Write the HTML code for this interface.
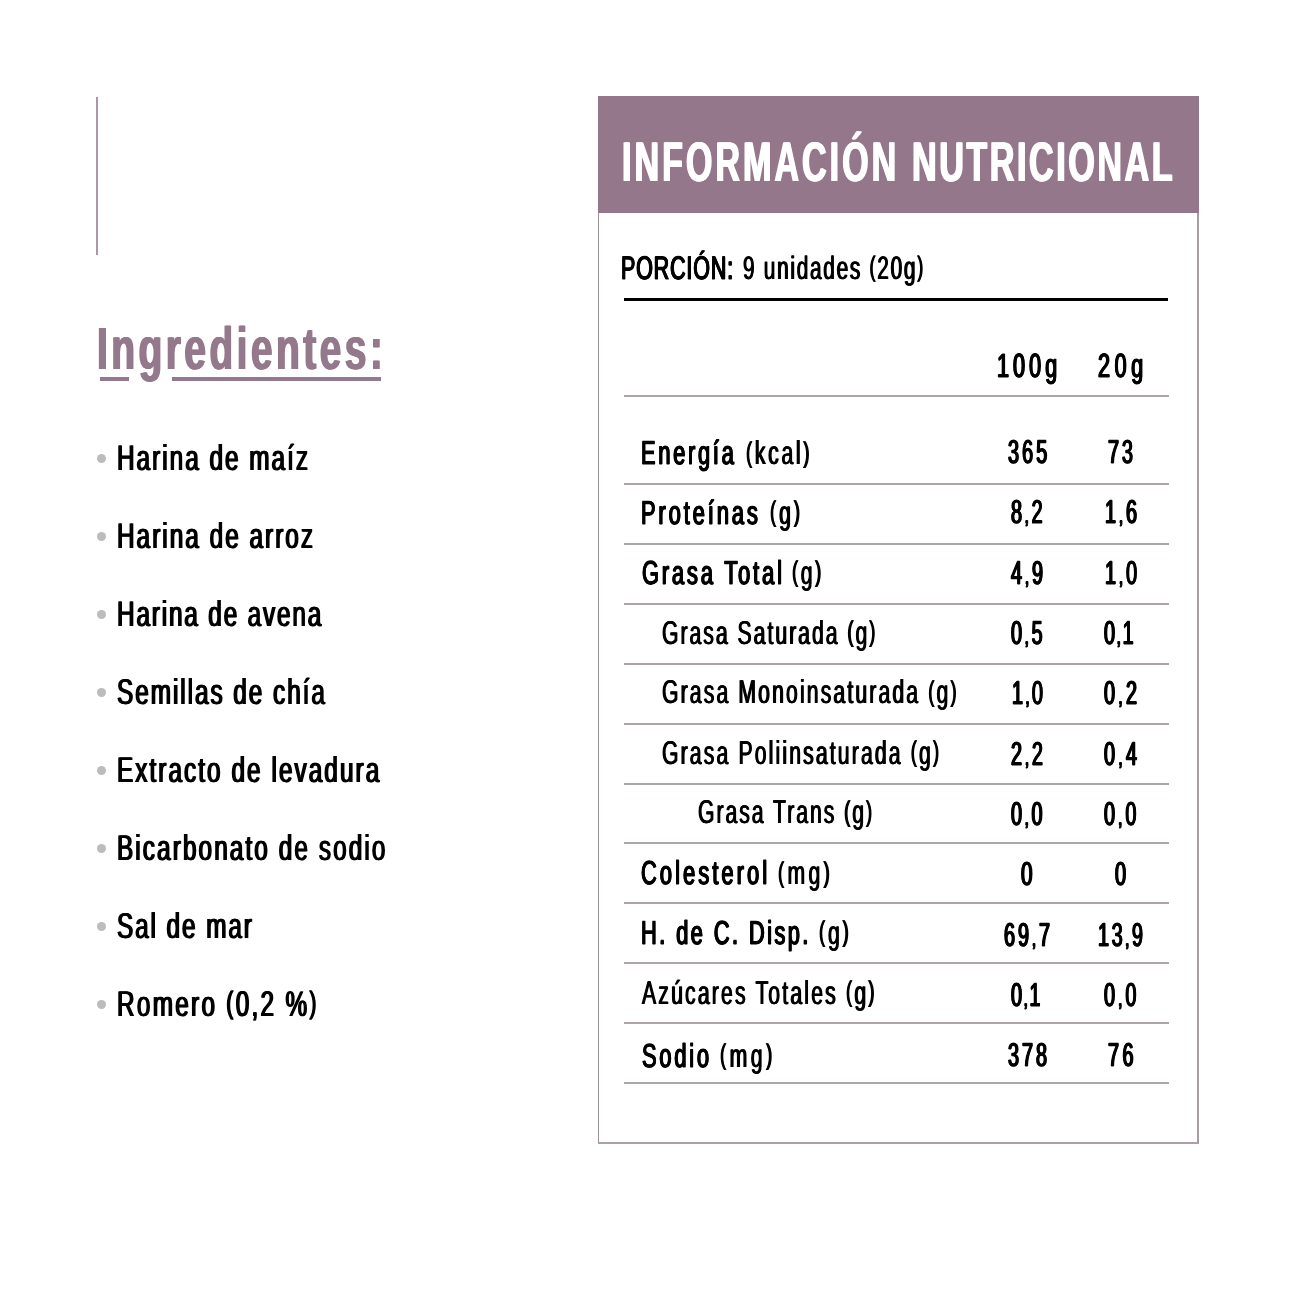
<!DOCTYPE html>
<html lang="es"><head><meta charset="utf-8"><title>Información nutricional</title>
<style>
html,body{margin:0;padding:0;background:#fff;}
body{width:1296px;height:1296px;position:relative;overflow:hidden;font-family:"Liberation Sans",sans-serif;color:#000;}
.t{position:absolute;margin:0;padding:0;white-space:pre;line-height:1em;transform-origin:0 0;font-weight:400;display:block;text-rendering:geometricPrecision;}
.title,.h2{font-weight:700;}
.c{font-size:.72em;}
.p{font-size:.87em;position:relative;top:-.09em;}
.title{color:#fff;}
.h2{color:#94788c;}
h1,h2,p,ul,li{margin:0;padding:0;list-style:none;font-weight:400;font-size:0;}
.vline{position:absolute;left:96px;top:97px;width:2px;height:158px;background:#ad97a7;}
.ul{position:absolute;top:377px;height:4px;background:#94788c;}
.dot{position:absolute;left:97px;width:9px;height:9px;border-radius:50%;background:#bcbcbe;}
.panel{position:absolute;left:598px;top:96px;width:598px;height:1046px;border-style:solid;border-color:#a99ca4;border-width:0 2px 2px 1px;border-left-color:#9d9098;border-bottom-color:#af9fab;box-sizing:content-box;}
.head{position:absolute;left:598px;top:96px;width:601px;height:117px;background:#94778b;}
.rule{position:absolute;left:624px;width:544px;height:3.5px;top:297.6px;background:#000;}
.ln{position:absolute;left:624px;width:545px;height:2px;background:#afa4aa;}
</style></head><body>
<div class="vline"></div>
<h2><span class="t h2" style="left:97.36px;top:318.57px;font-size:59.56px;transform:scaleX(0.6550);letter-spacing:5.21px;text-shadow:1.07px 0 0 currentColor,-1.07px 0 0 currentColor;">Ingredientes:</span></h2>
<div class="ul" style="left:100px;width:29px"></div><div class="ul" style="left:171.75px;width:209px"></div>
<ul>
<li><i class="dot" style="top:454.10px"></i><span class="t ing" style="left:116.83px;top:441.09px;font-size:35.79px;transform:scaleX(0.6800);letter-spacing:2.95px;text-shadow:1.07px 0 0 currentColor,-1.07px 0 0 currentColor;">Harina de maíz</span></li>
<li><i class="dot" style="top:532.04px"></i><span class="t ing" style="left:116.83px;top:519.03px;font-size:35.79px;transform:scaleX(0.6800);letter-spacing:2.98px;text-shadow:1.07px 0 0 currentColor,-1.07px 0 0 currentColor;">Harina de arroz</span></li>
<li><i class="dot" style="top:609.98px"></i><span class="t ing" style="left:116.83px;top:596.97px;font-size:35.79px;transform:scaleX(0.6800);letter-spacing:2.70px;text-shadow:1.07px 0 0 currentColor,-1.07px 0 0 currentColor;">Harina de avena</span></li>
<li><i class="dot" style="top:687.92px"></i><span class="t ing" style="left:117.47px;top:674.91px;font-size:35.79px;transform:scaleX(0.6800);letter-spacing:2.88px;text-shadow:1.07px 0 0 currentColor,-1.07px 0 0 currentColor;">Semillas de chía</span></li>
<li><i class="dot" style="top:765.86px"></i><span class="t ing" style="left:116.83px;top:752.85px;font-size:35.79px;transform:scaleX(0.6800);letter-spacing:3.02px;text-shadow:1.07px 0 0 currentColor,-1.07px 0 0 currentColor;">Extracto de levadura</span></li>
<li><i class="dot" style="top:843.80px"></i><span class="t ing" style="left:116.83px;top:830.79px;font-size:35.79px;transform:scaleX(0.6800);letter-spacing:3.08px;text-shadow:1.07px 0 0 currentColor,-1.07px 0 0 currentColor;">Bicarbonato de sodio</span></li>
<li><i class="dot" style="top:921.74px"></i><span class="t ing" style="left:117.47px;top:908.73px;font-size:35.79px;transform:scaleX(0.6800);letter-spacing:2.82px;text-shadow:1.07px 0 0 currentColor,-1.07px 0 0 currentColor;">Sal de mar</span></li>
<li><i class="dot" style="top:999.68px"></i><span class="t ing" style="left:116.83px;top:986.67px;font-size:35.79px;transform:scaleX(0.6800);letter-spacing:3.37px;text-shadow:1.07px 0 0 currentColor,-1.07px 0 0 currentColor;">Romero <span class="p">(</span>0,2 %<span class="p">)</span></span></li>
</ul>
<section>
<div class="panel"></div><div class="head"></div>
<h1><span class="t title" style="left:622.30px;top:133.82px;font-size:55.96px;transform:scaleX(0.6100);letter-spacing:4.86px;text-shadow:1.12px 0 0 currentColor,-1.12px 0 0 currentColor;">INFORMACIÓN</span><span class="t title" style="left:912.30px;top:133.82px;font-size:55.96px;transform:scaleX(0.6100);letter-spacing:4.18px;text-shadow:1.12px 0 0 currentColor,-1.12px 0 0 currentColor;">NUTRICIONAL</span></h1>
<p><b class="t lb" style="left:621.32px;top:251.87px;font-size:32.52px;transform:scaleX(0.6600);letter-spacing:1.30px;text-shadow:0.91px 0 0 currentColor,-0.91px 0 0 currentColor;-webkit-text-stroke:1.2px currentColor;">PORCIÓN:</b><span class="t lr" style="left:742.82px;top:251.87px;font-size:32.52px;transform:scaleX(0.6400);letter-spacing:2.69px;text-shadow:0.85px 0 0 currentColor,-0.85px 0 0 currentColor;">9 unidades <span class="p">(</span>20g<span class="p">)</span></span></p>
<div class="rule"></div>
<div class="row"><span class="t hd" style="left:997.24px;top:350.28px;font-size:33.57px;transform:scaleX(0.6450);letter-spacing:6.21px;text-shadow:1.04px 0 0 currentColor,-1.04px 0 0 currentColor;-webkit-text-stroke:1.0px currentColor;">100g</span><span class="t hd" style="left:1097.98px;top:350.28px;font-size:33.57px;transform:scaleX(0.6450);letter-spacing:7.07px;text-shadow:1.04px 0 0 currentColor,-1.04px 0 0 currentColor;-webkit-text-stroke:1.0px currentColor;">20g</span></div>
<div class="ln" style="top:394.70px"></div><div class="ln" style="top:483.25px"></div><div class="ln" style="top:542.75px"></div><div class="ln" style="top:602.75px"></div><div class="ln" style="top:662.75px"></div><div class="ln" style="top:722.75px"></div><div class="ln" style="top:782.75px"></div><div class="ln" style="top:842.25px"></div><div class="ln" style="top:902.25px"></div><div class="ln" style="top:962.25px"></div><div class="ln" style="top:1022.25px"></div><div class="ln" style="top:1082.00px"></div>
<div class="row"><b class="t lb" style="left:641.05px;top:437.23px;font-size:33.10px;transform:scaleX(0.6600);letter-spacing:4.12px;text-shadow:0.93px 0 0 currentColor,-0.93px 0 0 currentColor;-webkit-text-stroke:1.2px currentColor;">Energía</b><span class="t lr" style="left:746.31px;top:437.23px;font-size:33.10px;transform:scaleX(0.6400);letter-spacing:4.23px;text-shadow:0.86px 0 0 currentColor,-0.86px 0 0 currentColor;"><span class="p">(</span>kcal<span class="p">)</span></span><span class="t num" style="left:1007.69px;top:434.86px;font-size:33.00px;transform:scaleX(0.6000);letter-spacing:5.13px;text-shadow:1.19px 0 0 currentColor,-1.19px 0 0 currentColor;-webkit-text-stroke:1.0px currentColor;">365</span><span class="t num" style="left:1108.08px;top:434.86px;font-size:33.00px;transform:scaleX(0.6000);letter-spacing:4.80px;text-shadow:1.19px 0 0 currentColor,-1.19px 0 0 currentColor;-webkit-text-stroke:1.0px currentColor;">73</span></div>
<div class="row"><b class="t lb" style="left:641.05px;top:496.73px;font-size:33.10px;transform:scaleX(0.6600);letter-spacing:4.43px;text-shadow:0.93px 0 0 currentColor,-0.93px 0 0 currentColor;-webkit-text-stroke:1.2px currentColor;">Proteínas</b><span class="t lr" style="left:769.56px;top:496.73px;font-size:33.10px;transform:scaleX(0.6400);letter-spacing:4.64px;text-shadow:0.86px 0 0 currentColor,-0.86px 0 0 currentColor;"><span class="p">(</span>g<span class="p">)</span></span><span class="t num" style="left:1011.19px;top:495.46px;font-size:33.00px;transform:scaleX(0.6000);letter-spacing:4.68px;text-shadow:1.19px 0 0 currentColor,-1.19px 0 0 currentColor;-webkit-text-stroke:1.0px currentColor;">8<span class="c">,</span>2</span><span class="t num" style="left:1104.78px;top:495.46px;font-size:33.00px;transform:scaleX(0.6000);letter-spacing:5.02px;text-shadow:1.19px 0 0 currentColor,-1.19px 0 0 currentColor;-webkit-text-stroke:1.0px currentColor;">1<span class="c">,</span>6</span></div>
<div class="row"><b class="t lb" style="left:641.73px;top:556.73px;font-size:33.10px;transform:scaleX(0.6600);letter-spacing:4.34px;text-shadow:0.93px 0 0 currentColor,-0.93px 0 0 currentColor;-webkit-text-stroke:1.2px currentColor;">Grasa Total</b><span class="t lr" style="left:792.06px;top:556.73px;font-size:33.10px;transform:scaleX(0.6400);letter-spacing:4.05px;text-shadow:0.86px 0 0 currentColor,-0.86px 0 0 currentColor;"><span class="p">(</span>g<span class="p">)</span></span><span class="t num" style="left:1010.80px;top:555.76px;font-size:33.00px;transform:scaleX(0.6000);letter-spacing:5.00px;text-shadow:1.19px 0 0 currentColor,-1.19px 0 0 currentColor;-webkit-text-stroke:1.0px currentColor;">4<span class="c">,</span>9</span><span class="t num" style="left:1104.78px;top:555.76px;font-size:33.00px;transform:scaleX(0.6000);letter-spacing:5.10px;text-shadow:1.19px 0 0 currentColor,-1.19px 0 0 currentColor;-webkit-text-stroke:1.0px currentColor;">1<span class="c">,</span>0</span></div>
<div class="row"><span class="t lr" style="left:662.06px;top:616.73px;font-size:33.10px;transform:scaleX(0.6400);letter-spacing:3.13px;text-shadow:0.86px 0 0 currentColor,-0.86px 0 0 currentColor;">Grasa Saturada <span class="p">(</span>g<span class="p">)</span></span><span class="t num" style="left:1011.19px;top:616.06px;font-size:33.00px;transform:scaleX(0.6000);letter-spacing:4.68px;text-shadow:1.19px 0 0 currentColor,-1.19px 0 0 currentColor;-webkit-text-stroke:1.0px currentColor;">0<span class="c">,</span>5</span><span class="t num" style="left:1104.19px;top:616.06px;font-size:33.00px;transform:scaleX(0.6000);letter-spacing:3.01px;text-shadow:1.19px 0 0 currentColor,-1.19px 0 0 currentColor;-webkit-text-stroke:1.0px currentColor;">0<span class="c">,</span>1</span></div>
<div class="row"><span class="t lr" style="left:662.06px;top:676.38px;font-size:33.10px;transform:scaleX(0.6400);letter-spacing:3.35px;text-shadow:0.86px 0 0 currentColor,-0.86px 0 0 currentColor;">Grasa Monoinsaturada <span class="p">(</span>g<span class="p">)</span></span><span class="t num" style="left:1011.78px;top:676.16px;font-size:33.00px;transform:scaleX(0.6000);letter-spacing:4.10px;text-shadow:1.19px 0 0 currentColor,-1.19px 0 0 currentColor;-webkit-text-stroke:1.0px currentColor;">1<span class="c">,</span>0</span><span class="t num" style="left:1104.19px;top:676.16px;font-size:33.00px;transform:scaleX(0.6000);letter-spacing:5.84px;text-shadow:1.19px 0 0 currentColor,-1.19px 0 0 currentColor;-webkit-text-stroke:1.0px currentColor;">0<span class="c">,</span>2</span></div>
<div class="row"><span class="t lr" style="left:662.06px;top:736.73px;font-size:33.10px;transform:scaleX(0.6400);letter-spacing:3.36px;text-shadow:0.86px 0 0 currentColor,-0.86px 0 0 currentColor;">Grasa Poliinsaturada <span class="p">(</span>g<span class="p">)</span></span><span class="t num" style="left:1010.88px;top:736.66px;font-size:33.00px;transform:scaleX(0.6000);letter-spacing:4.93px;text-shadow:1.19px 0 0 currentColor,-1.19px 0 0 currentColor;-webkit-text-stroke:1.0px currentColor;">2<span class="c">,</span>2</span><span class="t num" style="left:1104.19px;top:736.66px;font-size:33.00px;transform:scaleX(0.6000);letter-spacing:5.92px;text-shadow:1.19px 0 0 currentColor,-1.19px 0 0 currentColor;-webkit-text-stroke:1.0px currentColor;">0<span class="c">,</span>4</span></div>
<div class="row"><span class="t lr" style="left:697.56px;top:796.38px;font-size:33.10px;transform:scaleX(0.6400);letter-spacing:3.10px;text-shadow:0.86px 0 0 currentColor,-0.86px 0 0 currentColor;">Grasa Trans <span class="p">(</span>g<span class="p">)</span></span><span class="t num" style="left:1011.39px;top:796.86px;font-size:33.00px;transform:scaleX(0.6000);letter-spacing:4.58px;text-shadow:1.19px 0 0 currentColor,-1.19px 0 0 currentColor;-webkit-text-stroke:1.0px currentColor;">0<span class="c">,</span>0</span><span class="t num" style="left:1104.29px;top:796.86px;font-size:33.00px;transform:scaleX(0.6000);letter-spacing:5.33px;text-shadow:1.19px 0 0 currentColor,-1.19px 0 0 currentColor;-webkit-text-stroke:1.0px currentColor;">0<span class="c">,</span>0</span></div>
<div class="row"><b class="t lb" style="left:641.23px;top:857.23px;font-size:33.10px;transform:scaleX(0.6600);letter-spacing:4.69px;text-shadow:0.93px 0 0 currentColor,-0.93px 0 0 currentColor;-webkit-text-stroke:1.2px currentColor;">Colesterol</b><span class="t lr" style="left:777.56px;top:857.23px;font-size:33.10px;transform:scaleX(0.6400);letter-spacing:5.23px;text-shadow:0.86px 0 0 currentColor,-0.86px 0 0 currentColor;"><span class="p">(</span>mg<span class="p">)</span></span><span class="t num" style="left:1021.21px;top:857.06px;font-size:33.00px;transform:scaleX(0.6289);text-shadow:1.19px 0 0 currentColor,-1.19px 0 0 currentColor;-webkit-text-stroke:1.0px currentColor;">0</span><span class="t num" style="left:1114.80px;top:857.06px;font-size:33.00px;transform:scaleX(0.6037);text-shadow:1.19px 0 0 currentColor,-1.19px 0 0 currentColor;-webkit-text-stroke:1.0px currentColor;">0</span></div>
<div class="row"><b class="t lb" style="left:640.55px;top:916.73px;font-size:33.10px;transform:scaleX(0.6600);letter-spacing:3.67px;text-shadow:0.93px 0 0 currentColor,-0.93px 0 0 currentColor;-webkit-text-stroke:1.2px currentColor;">H. de C. Disp.</b><span class="t lr" style="left:818.81px;top:916.73px;font-size:33.10px;transform:scaleX(0.6400);letter-spacing:4.44px;text-shadow:0.86px 0 0 currentColor,-0.86px 0 0 currentColor;"><span class="p">(</span>g<span class="p">)</span></span><span class="t num" style="left:1004.08px;top:917.66px;font-size:33.00px;transform:scaleX(0.6000);letter-spacing:5.00px;text-shadow:1.19px 0 0 currentColor,-1.19px 0 0 currentColor;-webkit-text-stroke:1.0px currentColor;">69<span class="c">,</span>7</span><span class="t num" style="left:1097.88px;top:917.66px;font-size:33.00px;transform:scaleX(0.6000);letter-spacing:4.40px;text-shadow:1.19px 0 0 currentColor,-1.19px 0 0 currentColor;-webkit-text-stroke:1.0px currentColor;">13<span class="c">,</span>9</span></div>
<div class="row"><span class="t lr" style="left:641.80px;top:976.98px;font-size:33.10px;transform:scaleX(0.6400);letter-spacing:3.43px;text-shadow:0.86px 0 0 currentColor,-0.86px 0 0 currentColor;">Azúcares Totales <span class="p">(</span>g<span class="p">)</span></span><span class="t num" style="left:1011.39px;top:977.76px;font-size:33.00px;transform:scaleX(0.6000);letter-spacing:2.84px;text-shadow:1.19px 0 0 currentColor,-1.19px 0 0 currentColor;-webkit-text-stroke:1.0px currentColor;">0<span class="c">,</span>1</span><span class="t num" style="left:1104.29px;top:977.76px;font-size:33.00px;transform:scaleX(0.6000);letter-spacing:5.33px;text-shadow:1.19px 0 0 currentColor,-1.19px 0 0 currentColor;-webkit-text-stroke:1.0px currentColor;">0<span class="c">,</span>0</span></div>
<div class="row"><b class="t lb" style="left:641.58px;top:1039.98px;font-size:33.10px;transform:scaleX(0.6600);letter-spacing:4.24px;text-shadow:0.93px 0 0 currentColor,-0.93px 0 0 currentColor;-webkit-text-stroke:1.2px currentColor;">Sodio</b><span class="t lr" style="left:719.56px;top:1039.98px;font-size:33.10px;transform:scaleX(0.6400);letter-spacing:5.49px;text-shadow:0.86px 0 0 currentColor,-0.86px 0 0 currentColor;"><span class="p">(</span>mg<span class="p">)</span></span><span class="t num" style="left:1007.69px;top:1038.06px;font-size:33.00px;transform:scaleX(0.6000);letter-spacing:4.97px;text-shadow:1.19px 0 0 currentColor,-1.19px 0 0 currentColor;-webkit-text-stroke:1.0px currentColor;">378</span><span class="t num" style="left:1107.68px;top:1038.06px;font-size:33.00px;transform:scaleX(0.6000);letter-spacing:5.80px;text-shadow:1.19px 0 0 currentColor,-1.19px 0 0 currentColor;-webkit-text-stroke:1.0px currentColor;">76</span></div>
</section>
</body></html>
